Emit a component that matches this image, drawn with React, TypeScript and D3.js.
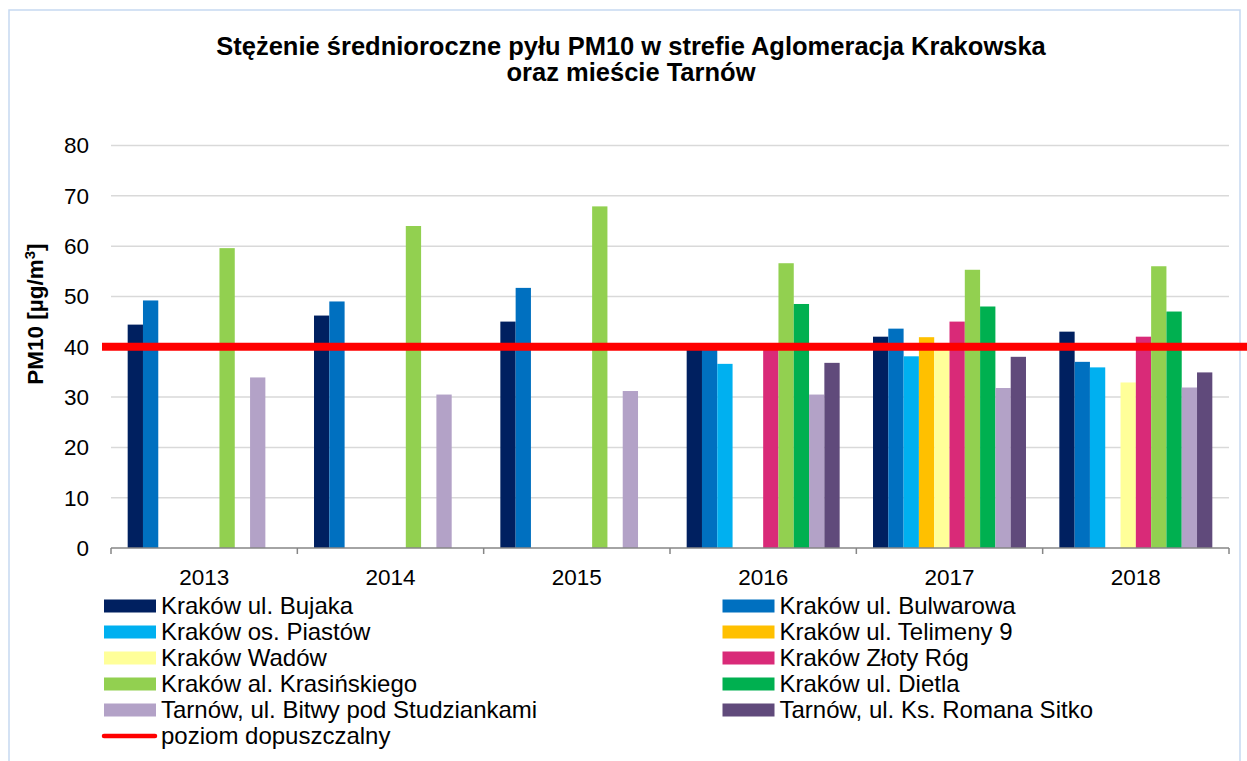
import React from 'react';
import * as d3 from 'd3';

// categories
const years = ['2013', '2014', '2015', '2016', '2017', '2018'];

// series names + colours
const stations = [
  'Kraków ul. Bujaka',
  'Kraków ul. Bulwarowa',
  'Kraków os. Piastów',
  'Kraków ul. Telimeny 9',
  'Kraków Wadów',
  'Kraków Złoty Róg',
  'Kraków al. Krasińskiego',
  'Kraków ul. Dietla',
  'Tarnów, ul. Bitwy pod Studziankami',
  'Tarnów, ul. Ks. Romana Sitko',
];
const colors = [
  '#002060', '#0070c0', '#00b0f0', '#ffc000', '#ffff99',
  '#d92a78', '#92d050', '#00b050', '#b3a2c7', '#604a7b',
];

// values per station (µg/m3), null = no measurement
const bujaka = [44.4, 46.2, 45.0, 40.0, 42.0, 43.0];
const bulwarowa = [49.2, 49.0, 51.7, 40.0, 43.6, 37.0];
const piastow = [null, null, null, 36.6, 38.1, 35.9];
const telimeny = [null, null, null, null, 41.9, null];
const wadow = [null, null, null, null, 40.0, 32.9];
const zlotyRog = [null, null, null, 40.6, 45.0, 42.0];
const krasinskiego = [59.6, 64.0, 67.9, 56.6, 55.3, 56.0];
const dietla = [null, null, null, 48.5, 48.0, 47.0];
const bitwy = [33.9, 30.5, 31.2, 30.5, 31.8, 31.9];
const sitko = [null, null, null, 36.8, 38.0, 34.9];

const limitLabel = 'poziom dopuszczalny';
const limitValue = 40;
const yTicks = [0, 10, 20, 30, 40, 50, 60, 70, 80];

const series: (number | null)[][] = [
  bujaka, bulwarowa, piastow, telimeny, wadow,
  zlotyRog, krasinskiego, dietla, bitwy, sitko,
];

const W = 1247;
const H = 761;
const font = '"Liberation Sans", Arial, sans-serif';

export default function App() {
  const x0 = d3.scaleBand<string>()
    .domain(years)
    .range([111, 1229])
    .paddingInner(0.179)
    .paddingOuter(0.0895);
  const x1 = d3.scaleBand<number>()
    .domain(d3.range(stations.length))
    .range([0, x0.bandwidth()]);
  const y = d3.scaleLinear().domain([0, 80]).range([548, 145.5]);

  const step = x0.step();
  const gap = step * 0.179;
  const bounds = years.map((yr) => (x0(yr) as number) - gap / 2);
  bounds.push(1229);

  const legendRows = Math.ceil(stations.length / 2);

  return (
    <svg width={W} height={H} style={{ position: 'fixed', left: 0, top: 0, background: '#fff' }}
      fontFamily={font}>
      <rect x={0} y={0} width={W} height={H} fill="#fff" />
      <rect x={9} y={10} width={1231} height={H + 20} fill="none" stroke="#c6d9f1" strokeWidth={1.5} />

      {/* title */}
      <text x={631} y={55} textAnchor="middle" fontSize={25.5} fontWeight="bold" fill="#000">
        Stężenie średnioroczne pyłu PM10 w strefie Aglomeracja Krakowska
      </text>
      <text x={631} y={81} textAnchor="middle" fontSize={25.5} fontWeight="bold" fill="#000">
        oraz mieście Tarnów
      </text>

      {/* grid + y ticks */}
      {yTicks.map((t) => (
        <g key={t}>
          {t > 0 && (
            <line x1={111} x2={1229} y1={y(t)} y2={y(t)} stroke="#d9d9d9" strokeWidth={1.5} />
          )}
          <text x={89} y={y(t)} dy="0.35em" textAnchor="end" fontSize={22.5} fill="#000">{t}</text>
        </g>
      ))}

      {/* y axis title */}
      <text transform={`translate(43,${y(46.5)}) rotate(-90)`} textAnchor="middle"
        fontSize={22.5} fontWeight="bold" fill="#000">
        PM10 [µg/m<tspan fontSize={15} dy={-8}>3</tspan><tspan dy={8}>]</tspan>
      </text>

      {/* bars */}
      {years.map((yr, i) => (
        <g key={yr} transform={`translate(${x0(yr)},0)`}>
          {series.map((s, j) => {
            const v = s[i];
            if (v == null) return null;
            return (
              <rect key={j} x={x1(j)} y={y(v)} width={x1.bandwidth()} height={y(0) - y(v)}
                fill={colors[j]} />
            );
          })}
        </g>
      ))}

      {/* x axis */}
      <line x1={111} x2={1229} y1={y(0)} y2={y(0)} stroke="#868686" strokeWidth={1.5} />
      {bounds.map((b, i) => (
        <line key={i} x1={b} x2={b} y1={y(0)} y2={y(0) + 6} stroke="#868686" strokeWidth={1.5} />
      ))}
      {years.map((yr) => (
        <text key={yr} x={(x0(yr) as number) + x0.bandwidth() / 2} y={577} dy="0.35em"
          textAnchor="middle" fontSize={22.5} fill="#000">{yr}</text>
      ))}

      {/* limit line */}
      <line x1={102} x2={W} y1={y(limitValue)} y2={y(limitValue)} stroke="#ff0000" strokeWidth={8} />

      {/* legend */}
      {stations.map((name, j) => {
        const col = j % 2;
        const row = Math.floor(j / 2);
        const sx = col === 0 ? 104 : 722.5;
        const cy = 606 + row * 26;
        return (
          <g key={name}>
            <rect x={sx} y={cy - 6.5} width={52} height={13} fill={colors[j]} />
            <text x={sx + 57} y={cy} dy="0.35em" fontSize={24} fill="#000">{name}</text>
          </g>
        );
      })}
      <line x1={104} x2={155} y1={606 + legendRows * 26} y2={606 + legendRows * 26}
        stroke="#ff0000" strokeWidth={4.5} strokeLinecap="round" />
      <text x={161} y={606 + legendRows * 26} dy="0.35em" fontSize={24} fill="#000">{limitLabel}</text>
    </svg>
  );
}
